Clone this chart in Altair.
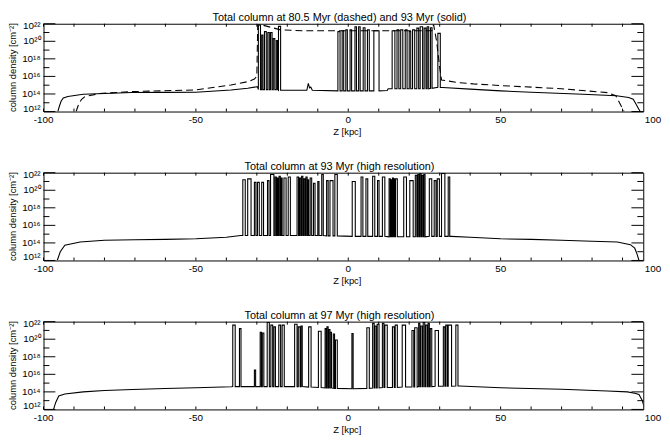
import altair as alt
import pandas as pd

# ---------------- data (log10 column density vs Z [kpc]) ----------------
titles = [
    "Total column at 80.5 Myr (dashed) and 93 Myr (solid)",
    "Total column at 93 Myr (high resolution)",
    "Total column at 97 Myr (high resolution)",
]

# Panel 1, 93 Myr (solid)
p1s_left_z = [-95.3, -94.8, -94.2, -93.5, -92.0, -87.0, -80.0, -71.0, -60.0, -50.0, -38.5, -33.0, -29.8]
p1s_left_n = [12.0, 12.6, 13.2, 13.55, 13.72, 13.97, 14.05, 14.16, 14.18, 14.2, 14.46, 14.65, 14.84]
p1s_extra_z = [-13.6, -13.1, -12.7, -12.3, -11.8, 12.8, 13.1]
p1s_extra_n = [14.42, 15.2, 14.7, 14.8, 14.42, 14.4, 14.6]
# spikes: (z start, z end, top, base)
p1s_spikes = [
    (-29.5, -28.8, 21.85, 14.5), (-28.4, -28.0, 20.7, 14.5), (-27.5, -26.9, 21.1, 14.5),
    (-26.4, -25.9, 21.0, 14.5), (-25.5, -25.0, 21.0, 14.5), (-24.6, -24.1, 20.3, 14.5),
    (-23.6, -23.2, 20.1, 14.5), (-22.9, -22.2, 21.7, 14.42),
    (-3.4, -2.7, 21.1, 14.35), (-2.0, -1.5, 21.2, 14.35), (-0.8, -0.3, 21.3, 14.35),
    (0.6, 1.1, 21.3, 14.35), (2.2, 2.7, 21.65, 14.35), (3.4, 3.9, 21.65, 14.35),
    (4.9, 5.5, 21.55, 14.35), (6.3, 6.9, 21.3, 14.35), (8.4, 10.1, 21.2, 14.35),
    (14.4, 15.3, 21.2, 14.6), (16.0, 16.6, 21.3, 14.6), (17.2, 17.9, 21.3, 14.6),
    (18.7, 19.3, 21.3, 14.6), (20.0, 20.5, 21.1, 14.6), (21.1, 21.8, 21.3, 14.6),
    (22.5, 23.1, 21.5, 14.6), (23.6, 24.4, 21.65, 14.6), (24.9, 25.5, 21.5, 14.6),
    (25.9, 26.4, 21.65, 14.6), (27.0, 27.5, 21.55, 14.65), (29.4, 30.2, 20.9, 14.75),
]
p1s_right_z = [31.0, 40.0, 50.0, 60.0, 77.0, 88.0, 92.0, 93.5, 94.5, 95.3, 95.8]
p1s_right_n = [14.73, 14.55, 14.35, 14.2, 13.97, 13.8, 13.6, 13.4, 12.8, 12.3, 12.0]

# Panel 1, 80.5 Myr (dashed)
p1d_z = [-89.3, -88.5, -87.5, -86.4, -81.6, -71.0, -50.0, -38.5, -33.0, -30.8, -30.0, -29.7,
         -28.2, -22.2, -15.0, 0.0, 15.0, 27.4, 28.0, 29.0, 30.0, 30.6, 36.0, 41.0, 50.5,
         70.0, 85.0, 87.8, 89.0, 90.5]
p1d_n = [12.0, 12.8, 13.4, 13.7, 14.05, 14.27, 14.46, 15.03, 15.4, 15.7, 16.0, 21.85,
         21.85, 21.3, 21.2, 21.2, 21.2, 21.2, 21.9, 20.0, 17.0, 15.6, 15.3, 15.15, 14.95,
         14.6, 14.15, 13.8, 13.0, 12.0]

# Panel 2, 93 Myr high resolution
p2_left_z = [-95.5, -94.5, -93.0, -88.0, -80.0, -70.0, -60.0, -50.0, -40.0, -35.3]
p2_left_n = [12.0, 13.0, 13.75, 14.1, 14.3, 14.36, 14.4, 14.47, 14.65, 14.84]
p2_spikes = [
    (-34.6, -33.8, 21.2, 14.85), (-33.0, -31.9, 21.3, 14.85), (-30.8, -30.3, 20.9, 14.85),
    (-29.8, -29.2, 20.9, 14.85), (-28.4, -27.8, 20.9, 14.85), (-26.5, -26.0, 21.1, 14.85),
    (-25.5, -24.4, 21.8, 14.85), (-24.0, -23.6, 21.5, 14.85), (-23.3, -23.0, 21.4, 14.85),
    (-22.7, -22.3, 21.6, 14.85), (-22.0, -21.7, 21.4, 14.85), (-21.1, -20.4, 21.4, 14.85),
    (-19.7, -19.0, 21.5, 14.85), (-16.8, -16.3, 21.5, 14.85), (-16.0, -15.6, 21.4, 14.85),
    (-15.3, -14.9, 21.6, 14.85), (-14.6, -14.2, 21.3, 14.85), (-13.9, -13.5, 21.5, 14.85),
    (-13.2, -13.0, 21.2, 14.85), (-12.5, -12.0, 21.4, 14.85), (-11.4, -10.9, 20.8, 14.85),
    (-10.0, -9.6, 21.0, 14.85), (-8.7, -8.2, 21.8, 14.85), (-7.1, -6.6, 21.1, 14.8),
    (-6.0, -5.0, 21.1, 14.8), (-4.4, -3.6, 21.8, 14.8),
    (1.3, 2.3, 21.0, 14.75), (4.2, 4.8, 21.5, 14.75), (5.8, 6.4, 21.3, 14.75),
    (8.0, 8.7, 21.6, 14.75), (9.6, 10.1, 21.1, 14.75), (11.2, 12.0, 21.5, 14.75),
    (13.4, 13.8, 21.3, 14.7), (14.0, 14.3, 21.2, 14.7), (14.5, 14.8, 21.4, 14.7),
    (15.0, 15.3, 21.3, 14.7), (15.5, 16.1, 21.3, 14.7), (18.2, 19.1, 21.5, 14.7),
    (20.2, 21.3, 21.1, 14.7), (22.0, 22.5, 21.7, 14.7), (22.8, 23.2, 21.8, 14.7),
    (23.5, 23.9, 21.9, 14.7), (24.2, 24.6, 21.7, 14.7), (24.8, 25.2, 21.8, 14.7),
    (26.6, 27.4, 21.3, 14.75), (28.2, 28.8, 21.1, 14.75), (29.2, 29.9, 21.3, 14.75),
    (30.6, 31.7, 21.9, 14.75), (32.8, 33.3, 21.5, 14.75),
]
p2_right_z = [33.8, 40.0, 50.0, 60.0, 70.0, 80.0, 88.3, 92.6, 94.0, 94.8, 95.4]
p2_right_n = [14.75, 14.65, 14.47, 14.4, 14.3, 14.2, 14.1, 13.8, 13.4, 12.7, 12.0]

# Panel 3, 97 Myr high resolution
p3_left_z = [-96.7, -96.0, -95.0, -93.0, -87.0, -80.0, -70.8, -60.0, -50.0, -38.4]
p3_left_n = [12.0, 12.8, 13.54, 13.75, 14.0, 14.15, 14.28, 14.38, 14.47, 14.58]
p3_spikes = [
    (-37.9, -37.1, 21.6, 14.6), (-35.7, -35.2, 21.2, 14.6), (-30.8, -30.4, 16.5, 14.6),
    (-28.9, -28.5, 20.8, 14.6), (-28.2, -27.7, 20.7, 14.6), (-26.6, -25.9, 21.9, 14.6),
    (-25.4, -24.8, 21.6, 14.6), (-24.4, -23.9, 21.4, 14.6), (-22.8, -22.2, 21.6, 14.6),
    (-21.7, -21.0, 21.6, 14.6), (-17.6, -16.8, 21.7, 14.6), (-16.4, -15.8, 21.4, 14.6),
    (-15.5, -15.1, 21.5, 14.6), (-13.0, -12.2, 21.4, 14.55), (-9.8, -8.9, 20.9, 14.5),
    (-7.6, -7.2, 21.2, 14.45), (-7.0, -6.6, 21.4, 14.45), (-6.4, -6.0, 21.1, 14.45),
    (-5.9, -5.5, 20.8, 14.45), (-4.9, -4.5, 20.6, 14.4), (-4.2, -3.6, 19.9, 14.4),
    (1.2, 1.6, 20.65, 14.36),
    (6.1, 6.9, 21.3, 14.4), (8.0, 8.5, 21.8, 14.45), (8.8, 9.3, 21.5, 14.45),
    (9.5, 10.1, 21.7, 14.45), (11.2, 11.7, 21.8, 14.5), (12.0, 12.8, 21.6, 14.5),
    (14.5, 15.1, 21.4, 14.5), (15.4, 16.1, 21.6, 14.5), (17.7, 18.8, 21.6, 14.55),
    (20.9, 21.5, 21.0, 14.55), (21.8, 22.6, 21.3, 14.55), (23.1, 23.5, 21.8, 14.6),
    (23.8, 24.3, 21.5, 14.6), (24.6, 25.1, 21.9, 14.6), (25.4, 25.9, 21.6, 14.6),
    (26.2, 26.6, 21.8, 14.6), (26.9, 27.4, 21.2, 14.6), (28.5, 29.6, 21.0, 14.65),
    (31.2, 31.7, 21.4, 14.65), (32.0, 32.5, 21.6, 14.65), (32.8, 33.9, 21.6, 14.65),
    (35.3, 36.0, 21.6, 14.66),
]
p3_right_z = [36.5, 50.0, 70.0, 85.0, 91.6, 94.0, 95.4, 96.5, 97.3]
p3_right_n = [14.66, 14.47, 14.3, 14.1, 14.0, 13.85, 13.7, 13.0, 12.0]

# axis tick values and labels
y_major_exp = [12, 14, 16, 18, 20, 22]
y_major_lbl = ["10¹²", "10¹⁴", "10¹⁶", "10¹⁸", "10²⁰", "10²²"]
y_minor_exp = [13, 15, 17, 19, 21]
y_title = "column density [cm⁻²]"
x_major = [-100, -50, 0, 50, 100]
x_minor = [-90, -80, -70, -60, -40, -30, -20, -10, 10, 20, 30, 40, 60, 70, 80, 90]
x_title = "Z [kpc]"
x_view = [-100, 96.8]   # the frame stops a little short of z = 100

# ---------------- build tables ----------------
def build(left_z, left_n, spikes, right_z, right_n, extra_z=(), extra_n=()):
    pts = list(zip(left_z, left_n))
    pts += list(zip(extra_z, extra_n))
    for z0, z1, top, base in spikes:
        pts += [(z0, base), (z0, top), (z1, top), (z1, base)]
    pts += list(zip(right_z, right_n))
    pts = sorted(pts, key=lambda p: p[0])  # stable: keeps spike edge order
    return pd.DataFrame({"i": range(len(pts)),
                         "z": [p[0] for p in pts],
                         "N": [10.0 ** p[1] for p in pts]})

df1s = build(p1s_left_z, p1s_left_n, p1s_spikes, p1s_right_z, p1s_right_n, p1s_extra_z, p1s_extra_n)
df1d = pd.DataFrame({"i": range(len(p1d_z)), "z": p1d_z, "N": [10.0 ** v for v in p1d_n]})
df2 = build(p2_left_z, p2_left_n, p2_spikes, p2_right_z, p2_right_n)
df3 = build(p3_left_z, p3_left_n, p3_spikes, p3_right_z, p3_right_n)

ymaj = pd.DataFrame({"v": [10.0 ** e for e in y_major_exp], "t": y_major_lbl})
ymin = pd.DataFrame({"v": [10.0 ** e for e in y_minor_exp]})
xmaj = pd.DataFrame({"v": x_major[:-1], "t": [str(v) for v in x_major[:-1]]})
xmin = pd.DataFrame({"v": x_minor})
xlast = pd.DataFrame({"v": x_major[-1:], "t": [str(v) for v in x_major[-1:]]})

W, H = 608, 89
FONT = "Liberation Sans"


def panel(lines, title):
    xs = alt.Scale(domain=x_view, nice=False, zero=False)
    ys = alt.Scale(type="log", domain=[1e12, 1e22], nice=False)
    X = lambda f: alt.X(f, scale=xs, axis=None)
    Y = lambda f: alt.Y(f, scale=ys, axis=None)
    layers = []
    for df, dash in lines:
        mk = dict(color="black", strokeWidth=1.1, clip=True)
        if dash:
            mk["strokeDash"] = [7, 4]
        layers.append(alt.Chart(df).mark_line(**mk).encode(
            x=X("z:Q"), y=Y("N:Q"), order=alt.Order("i:Q")))
    # inward ticks on all four sides
    for d, ln in ((ymaj, 12), (ymin, 6)):
        layers.append(alt.Chart(d).mark_rule(color="black", strokeWidth=1).encode(
            y=Y("v:Q"), x=alt.value(0), x2=alt.value(ln)))
        layers.append(alt.Chart(d).mark_rule(color="black", strokeWidth=1).encode(
            y=Y("v:Q"), x=alt.value(W), x2=alt.value(W - ln)))
    for d, ln in ((xmaj, 3), (xmin, 3)):
        layers.append(alt.Chart(d).mark_rule(color="black", strokeWidth=1).encode(
            x=X("v:Q"), y=alt.value(H), y2=alt.value(H - ln)))
        layers.append(alt.Chart(d).mark_rule(color="black", strokeWidth=1).encode(
            x=X("v:Q"), y=alt.value(0), y2=alt.value(ln)))
    # x tick labels (through the x scale, incl. the 100 just outside the frame)
    for d in (xmaj, xlast):
        layers.append(alt.Chart(d).mark_text(font=FONT, fontSize=10, align="center",
                                             baseline="top", color="black").encode(
            x=X("v:Q"), y=alt.value(H + 4), text="t:N"))
    # x title
    layers.append(alt.Chart(pd.DataFrame({"t": [x_title]})).mark_text(
        font=FONT, fontSize=9.5, align="center", baseline="top", color="black").encode(
        x=alt.value(W / 2 + 4), y=alt.value(H + 16), text="t:N"))
    # y tick labels (top / bottom ones kept inside the frame height)
    for sel, dy in ((ymaj.iloc[1:5], 0), (ymaj.iloc[5:6], 2), (ymaj.iloc[0:1], -3)):
        layers.append(alt.Chart(sel).mark_text(font=FONT, fontSize=10, align="right",
                                               baseline="middle", dy=dy, color="black").encode(
            y=Y("v:Q"), x=alt.value(-3), text="t:N"))
    # y title
    layers.append(alt.Chart(pd.DataFrame({"t": [y_title]})).mark_text(
        font=FONT, fontSize=9.5, angle=270, align="center", baseline="middle",
        color="black").encode(x=alt.value(-30.5), y=alt.value(H / 2), text="t:N"))
    # panel title just above the frame
    layers.append(alt.Chart(pd.DataFrame({"t": [title]})).mark_text(
        font=FONT, fontSize=11, baseline="alphabetic", align="center",
        color="black").encode(x=alt.value(W / 2 - 4), y=alt.value(-3), text="t:N"))
    return alt.layer(*layers).properties(width=W, height=H)


chart = alt.vconcat(
    panel([(df1s, False), (df1d, True)], titles[0]),
    panel([(df2, False)], titles[1]),
    panel([(df3, False)], titles[2]),
    spacing=23,
).properties(padding=0).configure_view(stroke="black", strokeWidth=1)

chart.save("out.html", embed_options={"renderer": "svg", "actions": False})
